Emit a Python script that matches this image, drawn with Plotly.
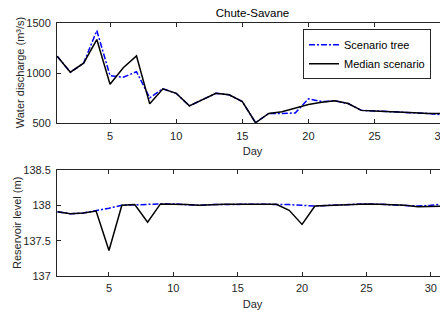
import plotly.graph_objects as go

days = list(range(1, 33))

tree_discharge = [1170, 1010, 1100, 1425, 975, 960, 1015, 755, 845, 800,
                  675, 738, 800, 785, 718, 507, 600, 600, 604, 745,
                  718, 725, 698, 630, 624, 620, 614, 607, 600, 587,
                  680, 690]
median_discharge = [1170, 1010, 1100, 1335, 890, 1055, 1172, 695, 845, 800,
                    675, 738, 800, 785, 718, 507, 600, 617, 654, 688,
                    710, 725, 698, 630, 624, 620, 614, 607, 600, 600,
                    680, 690]

tree_level = [137.91, 137.88, 137.89, 137.92, 137.96, 138.0, 138.01, 138.01, 138.02, 138.02,
              138.01, 138.0, 138.01, 138.015, 138.015, 138.015, 138.015, 138.015, 138.01, 138.0,
              137.99, 138.0, 138.01, 138.02, 138.02, 138.015, 138.01, 138.0, 137.99, 138.0,
              138.02, 138.02]
median_level = [137.91, 137.88, 137.89, 137.92, 137.36, 138.0, 138.01, 137.76, 138.02, 138.02,
                138.01, 138.0, 138.01, 138.015, 138.015, 138.015, 138.015, 138.015, 137.93, 137.73,
                137.99, 138.0, 138.01, 138.02, 138.02, 138.015, 138.01, 138.0, 137.98, 137.98,
                137.99, 138.0]

FONT = "Liberation Sans, Arial, Helvetica, sans-serif"
AX = "#262626"
DASHDOT = "6px,2px,2px,2px"

# the page body has an 8px default margin, so the figure is sized/offset to compensate
W, H = 440, 302
TOP_DOMAIN = [0.603, 1]
BOT_DOMAIN = [0, 0.419]

fig = go.Figure()
fig.add_trace(go.Scatter(x=days, y=tree_discharge, mode="lines", name="Scenario tree",
                         line=dict(color="#0000ff", width=1.5, dash=DASHDOT),
                         xaxis="x", yaxis="y"))
fig.add_trace(go.Scatter(x=days, y=median_discharge, mode="lines", name="Median scenario",
                         line=dict(color="#000000", width=1.5),
                         xaxis="x", yaxis="y"))
fig.add_trace(go.Scatter(x=days, y=tree_level, mode="lines", showlegend=False,
                         line=dict(color="#0000ff", width=1.5, dash=DASHDOT),
                         xaxis="x2", yaxis="y2"))
fig.add_trace(go.Scatter(x=days, y=median_level, mode="lines", showlegend=False,
                         line=dict(color="#000000", width=1.5),
                         xaxis="x2", yaxis="y2"))

axis_common = dict(showline=True, linecolor=AX, linewidth=1, ticks="inside",
                   ticklen=4, tickcolor=AX, showgrid=False, zeroline=False,
                   automargin=False,
                   tickfont=dict(size=11, color=AX, family=FONT))

fig.update_layout(
    template="none",
    width=W, height=H,
    margin=dict(l=49, r=0, t=15, b=34, pad=0),
    paper_bgcolor="white", plot_bgcolor="white",
    font=dict(family=FONT, size=11, color=AX),
    title=dict(text="Chute-Savane", x=0.5, xref="paper", xanchor="center",
               y=1 - 4.5 / H, yref="container", yanchor="middle",
               font=dict(size=11.5, color="#000000", family=FONT)),
    xaxis=dict(domain=[0, 1], range=[0.99, 30.55], tick0=0, dtick=5,
               mirror="ticks", anchor="y", ticklabelstandoff=2,
               title=dict(text="Day", standoff=6, font=dict(size=11)),
               **axis_common),
    yaxis=dict(domain=TOP_DOMAIN, range=[500, 1500], tickvals=[500, 1000, 1500],
               anchor="x", mirror=False, tickformat="d", ticklabelstandoff=3,
               **axis_common),
    xaxis2=dict(domain=[0, 1], range=[0.961, 31.34], tick0=0, dtick=5,
                mirror="ticks", anchor="y2", ticklabelstandoff=2,
                title=dict(text="Day", standoff=7, font=dict(size=11)),
                **axis_common),
    yaxis2=dict(domain=BOT_DOMAIN, range=[137, 138.5],
                tickvals=[137, 137.5, 138, 138.5], ticktext=["137", "137.5", "138", "138.5"],
                anchor="x2", mirror=False, ticklabelstandoff=3,
                **axis_common),
    legend=dict(x=0.9565, y=0.975, xanchor="right", yanchor="top",
                bgcolor="white", bordercolor="#262626", borderwidth=1,
                font=dict(size=11, color="#000000", family=FONT),
                tracegroupgap=0, itemwidth=30),
    annotations=[
        dict(text="Water discharge (m³/s)", textangle=-90, showarrow=False,
             xref="paper", yref="paper", x=0, y=sum(TOP_DOMAIN) / 2,
             xanchor="center", yanchor="middle", xshift=-37,
             font=dict(size=11, color=AX, family=FONT)),
        dict(text="Reservoir level (m)", textangle=-90, showarrow=False,
             xref="paper", yref="paper", x=0, y=sum(BOT_DOMAIN) / 2,
             xanchor="center", yanchor="middle", xshift=-40,
             font=dict(size=11, color=AX, family=FONT)),
    ],
)

fig.write_html("out.html")
